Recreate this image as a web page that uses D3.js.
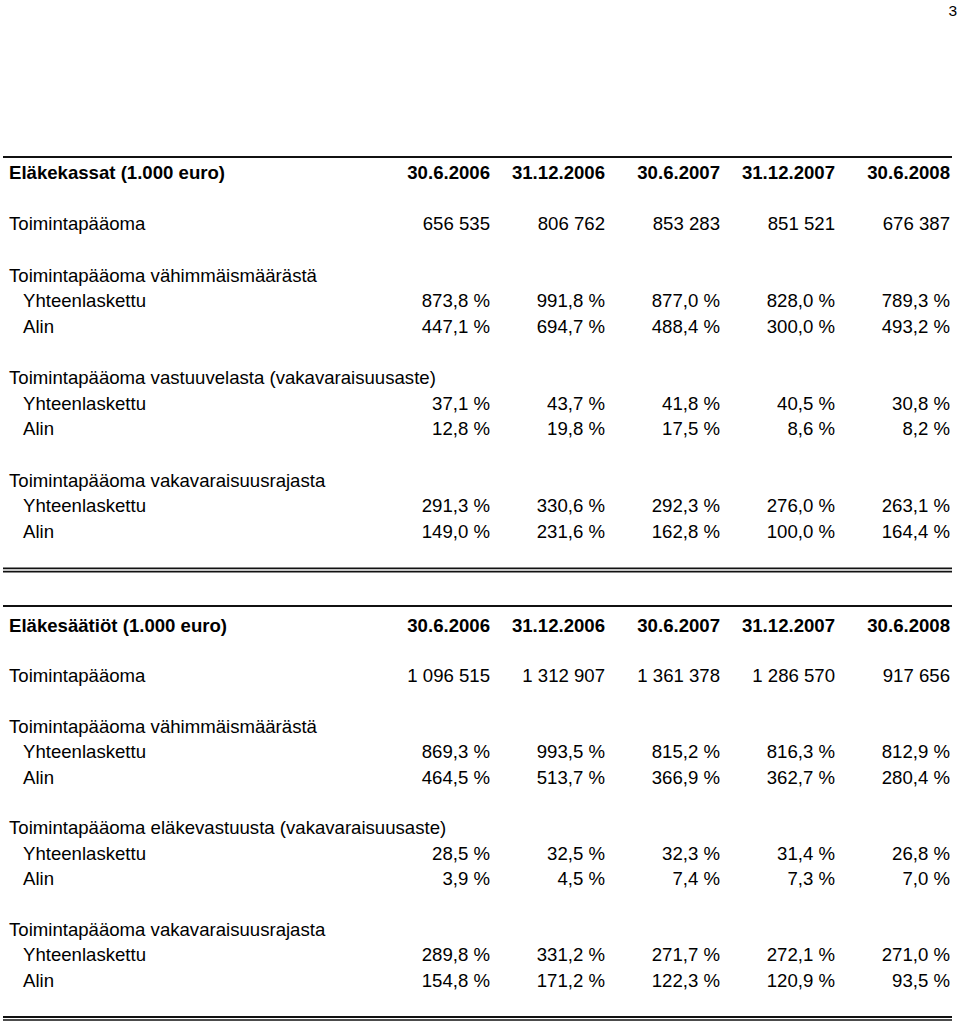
<!DOCTYPE html>
<html>
<head>
<meta charset="utf-8">
<script src="https://cdn.jsdelivr.net/npm/d3@7"></script>
<style>
  html, body { margin: 0; padding: 0; background: #fff; }
  svg { display: block; }
  text { font-family: "Liberation Sans", Arial, Helvetica, sans-serif; fill: #000; }
</style>
</head>
<body>
<script>
// ---- Data ----
const dates = ["30.6.2006", "31.12.2006", "30.6.2007", "31.12.2007", "30.6.2008"];
const pageNumber = "3";

const kassatTitle = "Eläkekassat (1.000 euro)";
const saatiotTitle = "Eläkesäätiöt (1.000 euro)";

const kassatGroups = ["Toimintapääoma vähimmäismäärästä", "Toimintapääoma vastuuvelasta (vakavaraisuusaste)", "Toimintapääoma vakavaraisuusrajasta"];
const saatiotGroups = ["Toimintapääoma vähimmäismäärästä", "Toimintapääoma eläkevastuusta (vakavaraisuusaste)", "Toimintapääoma vakavaraisuusrajasta"];
const subLabels = ["Yhteenlaskettu", "Alin"];
const firstRowLabel = "Toimintapääoma";

// Eläkekassat
const kassatToimintapaaoma = [656535, 806762, 853283, 851521, 676387];
const kassatVahimmYht = [873.8, 991.8, 877.0, 828.0, 789.3];
const kassatVahimmAlin = [447.1, 694.7, 488.4, 300.0, 493.2];
const kassatVastuuYht = [37.1, 43.7, 41.8, 40.5, 30.8];
const kassatVastuuAlin = [12.8, 19.8, 17.5, 8.6, 8.2];
const kassatRajaYht = [291.3, 330.6, 292.3, 276.0, 263.1];
const kassatRajaAlin = [149.0, 231.6, 162.8, 100.0, 164.4];

// Eläkesäätiöt
const saatiotToimintapaaoma = [1096515, 1312907, 1361378, 1286570, 917656];
const saatiotVahimmYht = [869.3, 993.5, 815.2, 816.3, 812.9];
const saatiotVahimmAlin = [464.5, 513.7, 366.9, 362.7, 280.4];
const saatiotVastuuYht = [28.5, 32.5, 32.3, 31.4, 26.8];
const saatiotVastuuAlin = [3.9, 4.5, 7.4, 7.3, 7.0];
const saatiotRajaYht = [289.8, 331.2, 271.7, 272.1, 271.0];
const saatiotRajaAlin = [154.8, 171.2, 122.3, 120.9, 93.5];

// ---- Layout ----
const W = 960, H = 1025;
const FS = 18.6;
const svg = d3.select("body").append("svg").attr("width", W).attr("height", H);

const fi = d3.formatLocale({ decimal: ",", thousands: "\u00a0", grouping: [3], currency: ["", " €"] });
const fmtInt = fi.format(",d");
const fmtPct = v => fi.format(".1f")(v) + " %";

const x = d3.scalePoint().domain(dates).range([490, 950]);
const labelX = 9, subX = 23;

function buildRows(title, toim, groups, vals) {
  const rows = [{ k: 0, label: title, values: dates, bold: true, x: labelX }];
  rows.push({ k: 2, label: firstRowLabel, values: toim.map(fmtInt), x: labelX });
  groups.forEach((g, i) => {
    const base = 4 + i * 4;
    rows.push({ k: base, label: g, values: null, x: labelX });
    rows.push({ k: base + 1, label: subLabels[0], values: vals[i][0].map(fmtPct), x: subX });
    rows.push({ k: base + 2, label: subLabels[1], values: vals[i][1].map(fmtPct), x: subX });
  });
  return rows;
}

function drawSection(rows, y) {
  const g = svg.append("g");
  rows.forEach(r => {
    g.append("text")
      .attr("x", r.x).attr("y", y(r.k)).attr("dy", "0.35em")
      .attr("font-size", FS).attr("font-weight", r.bold ? "bold" : "normal")
      .text(r.label);
    if (r.values) {
      g.selectAll(null).data(r.values.map((v, i) => ({ v, d: dates[i] }))).enter()
        .append("text")
        .attr("x", d => x(d.d)).attr("y", y(r.k)).attr("dy", "0.35em")
        .attr("text-anchor", "end")
        .attr("font-size", FS).attr("font-weight", r.bold ? "bold" : "normal")
        .text(d => d.v);
    }
  });
}

const y1 = d3.scaleLinear().domain([0, 14]).range([172.5, 531.5]);
const y2 = d3.scaleLinear().domain([0, 14]).range([625, 980]);

drawSection(buildRows(kassatTitle, kassatToimintapaaoma, kassatGroups,
  [[kassatVahimmYht, kassatVahimmAlin], [kassatVastuuYht, kassatVastuuAlin], [kassatRajaYht, kassatRajaAlin]]), y1);
drawSection(buildRows(saatiotTitle, saatiotToimintapaaoma, saatiotGroups,
  [[saatiotVahimmYht, saatiotVahimmAlin], [saatiotVastuuYht, saatiotVastuuAlin], [saatiotRajaYht, saatiotRajaAlin]]), y2);

// rules
const lineX0 = 3, lineX1 = 952;
function rule(yy, sw) {
  svg.append("line").attr("x1", lineX0).attr("x2", lineX1).attr("y1", yy).attr("y2", yy)
    .attr("stroke", "#111").attr("stroke-width", sw);
}
rule(157, 2);
rule(568.3, 1.8);
rule(571.6, 1.6);
rule(606, 2);
rule(1017, 1.8);
rule(1020, 1.6);

// page number
svg.append("text").attr("x", 957).attr("y", 15.5).attr("text-anchor", "end")
  .attr("font-size", 15.5).text(pageNumber);
</script>
</body>
</html>
